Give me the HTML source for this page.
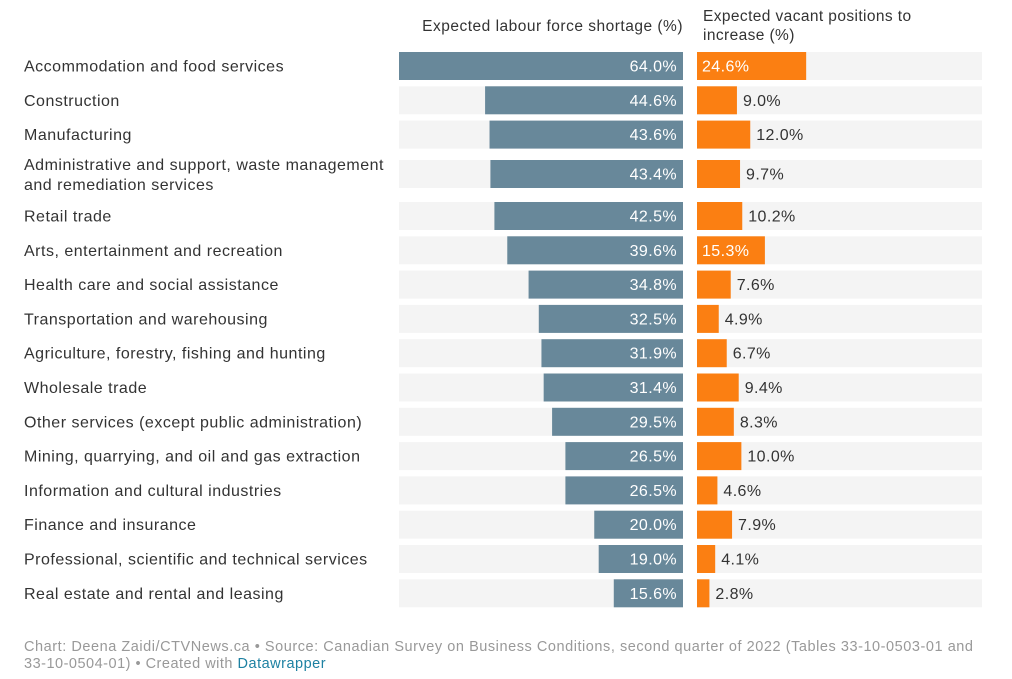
<!DOCTYPE html>
<html><head><meta charset="utf-8"><style>
body{margin:0;background:#fff;width:1012px;height:679px;overflow:hidden;font-family:"Liberation Sans",sans-serif}
svg{display:block}
</style></head><body>
<svg id="c" width="1012" height="679">
<text x="683" y="31" text-anchor="end" font-size="15.5" letter-spacing="0.5" fill="#333">Expected labour force shortage (%)</text>
<text x="703" y="21" font-size="15.5" letter-spacing="0.4" fill="#333">Expected vacant positions to</text>
<text x="703" y="40" font-size="15.5" letter-spacing="0.4" fill="#333">increase (%)</text>
<g id="rows"></g>
<text x="24" y="651" font-size="14.5" fill="#999" textLength="949" lengthAdjust="spacing">Chart: Deena Zaidi/CTVNews.ca • Source: Canadian Survey on Business Conditions, second quarter of 2022 (Tables 33-10-0503-01 and</text>
<text x="24" y="668" font-size="14.5" letter-spacing="0.5" fill="#999">33-10-0504-01) • Created with <tspan fill="#1d81a2">Datawrapper</tspan></text>
</svg>
<script>
const categories=["Accommodation and food services","Construction","Manufacturing","Administrative and support, waste management|and remediation services","Retail trade","Arts, entertainment and recreation","Health care and social assistance","Transportation and warehousing","Agriculture, forestry, fishing and hunting","Wholesale trade","Other services (except public administration)","Mining, quarrying, and oil and gas extraction","Information and cultural industries","Finance and insurance","Professional, scientific and technical services","Real estate and rental and leasing"];
const shortage=[64.0,44.6,43.6,43.4,42.5,39.6,34.8,32.5,31.9,31.4,29.5,26.5,26.5,20.0,19.0,15.6];
const vacant=[24.6,9.0,12.0,9.7,10.2,15.3,7.6,4.9,6.7,9.4,8.3,10.0,4.6,7.9,4.1,2.8];
const NS="http://www.w3.org/2000/svg";
const g=document.getElementById('rows');
const k=284/64;
const L0=399,L1=683,R0=697,R1=982;
function xL(v){return L1-v*k;}
function xR(v){return R0+v*k;}
function el(t,a){const e=document.createElementNS(NS,t);for(const n in a)e.setAttribute(n,a[n]);g.appendChild(e);return e;}
let y=52;
categories.forEach((c,i)=>{
  const lines=c.split('|');
  const two=lines.length>1;
  const top=y, h=28, cy=top+14;
  const bgL=el('rect',{x:L0,y:top,width:L1-L0,height:h,fill:'#f4f4f4'});
  
  
  const bgR=el('rect',{x:R0,y:top,width:R1-R0,height:h,fill:'#f4f4f4'});
  
  
  const b=el('rect',{x:xL(shortage[i]),y:top,width:shortage[i]*k,height:h,fill:'#68889a'});
  
  
  const t=el('text',{x:L1-6,y:cy+5.5,'text-anchor':'end','font-size':16,'letter-spacing':0.4,fill:'#fff'});
  t.textContent=shortage[i].toFixed(1)+'%';
  
  
  const w=vacant[i]*k;
  const r=el('rect',{x:R0,y:top,width:w,height:h,fill:'#fb7f12'});
  
  
  const inside=vacant[i]>=15;
  const vt=el('text',{x:inside?R0+5:xR(vacant[i])+6,y:cy+5.5,'font-size':16,'letter-spacing':0.4,fill:inside?'#fff':'#333'});
  vt.textContent=vacant[i].toFixed(1)+'%';
  
  
  lines.forEach((ln,j)=>{
    const lt=el('text',{x:24,y:two?cy-4+j*20:cy+5.5,'font-size':16,'letter-spacing':0.5,fill:'#333'});
    lt.textContent=ln;
    
    
  });
  y+= two?42:34.3;
  if(i===2) y=160; if(i===3) y=202;
});
</script>
</body></html>
